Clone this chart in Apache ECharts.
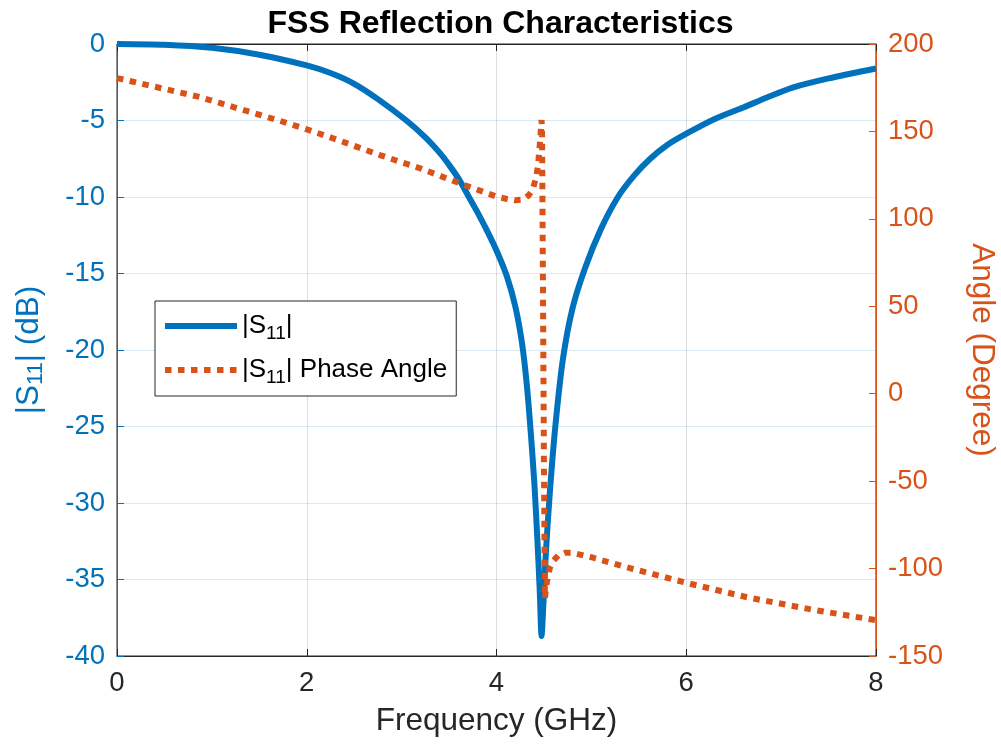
<!DOCTYPE html>
<html>
<head>
<meta charset="utf-8">
<script src="https://cdn.jsdelivr.net/npm/echarts@6/dist/echarts.min.js"></script>
<style>
  html, body { margin: 0; padding: 0; background: #fff; }
  #main { width: 1001px; height: 749px; }
</style>
</head>
<body>
<div id="main"></div>
<script>
// |S11| magnitude (dB) vs frequency (GHz)
var freqMag = [0, 0.5, 1.0, 1.5, 2.0, 2.25, 2.5, 2.75, 3.05, 3.25, 3.4, 3.5, 3.61, 3.7, 3.8, 3.9, 4.0, 4.11, 4.2,
    4.27, 4.32, 4.36, 4.40, 4.43, 4.455, 4.475, 4.495, 4.52, 4.56, 4.62, 4.70, 4.8, 4.93, 5.1, 5.28, 5.45,
    5.62, 5.8, 6.02, 6.3, 6.6, 6.85, 7.12, 7.5, 8.0];
var magDb = [0, -0.05, -0.25, -0.7, -1.4, -1.9, -2.6, -3.6, -5.0, -6.1, -7.1, -7.9, -8.9, -9.9, -11.0, -12.2, -13.5, -15.2, -17.2,
    -19.6, -22.3, -25.3, -28.8, -32.3, -35.6, -38.7, -36.5, -33.3, -29.5, -25, -20.6, -17.3, -14.7, -12.1, -10.0, -8.6,
    -7.5, -6.6, -5.8, -4.9, -4.15, -3.5, -2.85, -2.25, -1.6];

// |S11| phase angle (degree) vs frequency (GHz)
var freqPhase = [0, 0.87, 1.72, 2.0, 2.35, 2.77, 3.19, 3.61, 4.0, 4.1, 4.2, 4.28, 4.34, 4.38, 4.42, 4.44, 4.46, 4.475,
    4.48, 4.49, 4.50, 4.51, 4.53, 4.56, 4.6, 4.65, 4.72, 4.8, 4.88, 5.0, 5.16, 5.41, 6.02, 6.64, 7.34, 7.92, 8.0];
var phaseDeg = [180.5, 169.7, 156, 151.2, 144.7, 136.5, 129, 120.4, 112.7, 111.5, 110.6, 111, 113.5, 116.5, 124, 132, 145, 156.5,
    150, 60, -40, -117, -108, -100, -95.5, -92.5, -91, -91, -92, -93.5, -96, -99.8, -108.4, -116.4, -123.6, -128.8, -129.5];

var blue = '#0072BD';
var orange = '#D95319';
var dark = '#262626';
var font = 'Liberation Sans, Arial, Helvetica, sans-serif';

function pairs(xs, ys) {
    return xs.map(function (x, i) {
        return [x, ys[i]];
    });
}

var myChart = echarts.init(document.getElementById('main'), null, {renderer: 'canvas'});

myChart.setOption({
    backgroundColor: '#fff',
    animation: false,
    textStyle: {fontFamily: font},
    title: {
        text: 'FSS Reflection Characteristics',
        left: 'center',
        top: 3,
        textStyle: {fontSize: 32, fontWeight: 'bold', color: '#000', fontFamily: font}
    },
    grid: {
        left: 117,
        right: 125,
        top: 44,
        bottom: 93,
        show: true,
        borderColor: dark,
        borderWidth: 1,
        outerBoundsMode: 'none'
    },
    legend: {
        orient: 'vertical',
        left: 155,
        top: 301,
        padding: [8, 9, 9, 7],
        itemGap: 10,
        itemWidth: 72,
        itemHeight: 20,
        backgroundColor: '#fff',
        borderColor: dark,
        borderWidth: 1,
        itemStyle: {color: 'rgba(0,0,0,0)', borderWidth: 0, opacity: 0},
        lineStyle: {width: 6},
        formatter: function (name) {
            return name.replace('S11', 'S{sub|11}');
        },
        textStyle: {
            fontSize: 26,
            color: '#000',
            lineHeight: 34,
            fontFamily: font,
            rich: {
                sub: {fontSize: 19, lineHeight: 18, verticalAlign: 'bottom', color: '#000', fontFamily: font}
            }
        },
        data: ['|S11|', '|S11| Phase Angle']
    },
    xAxis: [{
        type: 'value',
        min: 0,
        max: 8,
        interval: 2,
        name: 'Frequency (GHz)',
        nameLocation: 'middle',
        nameGap: 49,
        nameTextStyle: {fontSize: 31.5, color: dark, fontFamily: font},
        axisLine: {onZero: false, lineStyle: {color: dark}},
        axisTick: {inside: true, length: 7, lineStyle: {color: dark}},
        axisLabel: {fontSize: 27.5, color: dark, margin: 13, fontFamily: font},
        splitLine: {show: true, lineStyle: {color: 'rgba(38,38,38,0.15)'}}
    }, {
        type: 'value',
        position: 'top',
        min: 0,
        max: 8,
        interval: 2,
        axisLine: {show: true, onZero: false, lineStyle: {color: dark}},
        axisTick: {show: true, inside: true, length: 7, lineStyle: {color: dark}},
        axisLabel: {show: false},
        splitLine: {show: false}
    }],
    yAxis: [{
        type: 'value',
        position: 'left',
        min: -40,
        max: 0,
        interval: 5,
        name: '|S{sub|11}| (dB)',
        nameLocation: 'middle',
        nameRotate: 90,
        nameGap: 70,
        nameTextStyle: {
            fontSize: 31.5,
            color: blue,
            lineHeight: 36,
            fontFamily: font,
            rich: {
                sub: {fontSize: 22, lineHeight: 18, verticalAlign: 'bottom', color: blue, fontFamily: font}
            }
        },
        axisLine: {show: true, onZero: false, lineStyle: {color: blue}},
        axisTick: {show: true, inside: true, length: 7, lineStyle: {color: blue}},
        axisLabel: {fontSize: 27.5, color: blue, margin: 12, fontFamily: font},
        splitLine: {show: true, lineStyle: {color: 'rgba(0,114,189,0.15)'}}
    }, {
        type: 'value',
        position: 'right',
        min: -150,
        max: 200,
        interval: 50,
        name: 'Angle (Degree)',
        nameLocation: 'middle',
        nameRotate: -90,
        nameGap: 90,
        nameTextStyle: {fontSize: 31.5, color: orange, fontFamily: font},
        axisLine: {show: true, onZero: false, lineStyle: {color: orange}},
        axisTick: {show: true, inside: true, length: 7, lineStyle: {color: orange}},
        axisLabel: {fontSize: 27.5, color: orange, margin: 12, fontFamily: font},
        splitLine: {show: false}
    }],
    series: [{
        name: '|S11|',
        type: 'line',
        xAxisIndex: 0,
        yAxisIndex: 0,
        symbol: 'none',
        smooth: 0.25,
        lineStyle: {color: blue, width: 6},
        itemStyle: {color: blue},
        data: pairs(freqMag, magDb),
        z: 2
    }, {
        name: '|S11| Phase Angle',
        type: 'line',
        xAxisIndex: 0,
        yAxisIndex: 1,
        symbol: 'none',
        lineStyle: {color: orange, width: 6, type: [6.5, 6.5], cap: 'butt'},
        itemStyle: {color: orange},
        data: pairs(freqPhase, phaseDeg),
        z: 3
    }]
});
</script>
</body>
</html>
